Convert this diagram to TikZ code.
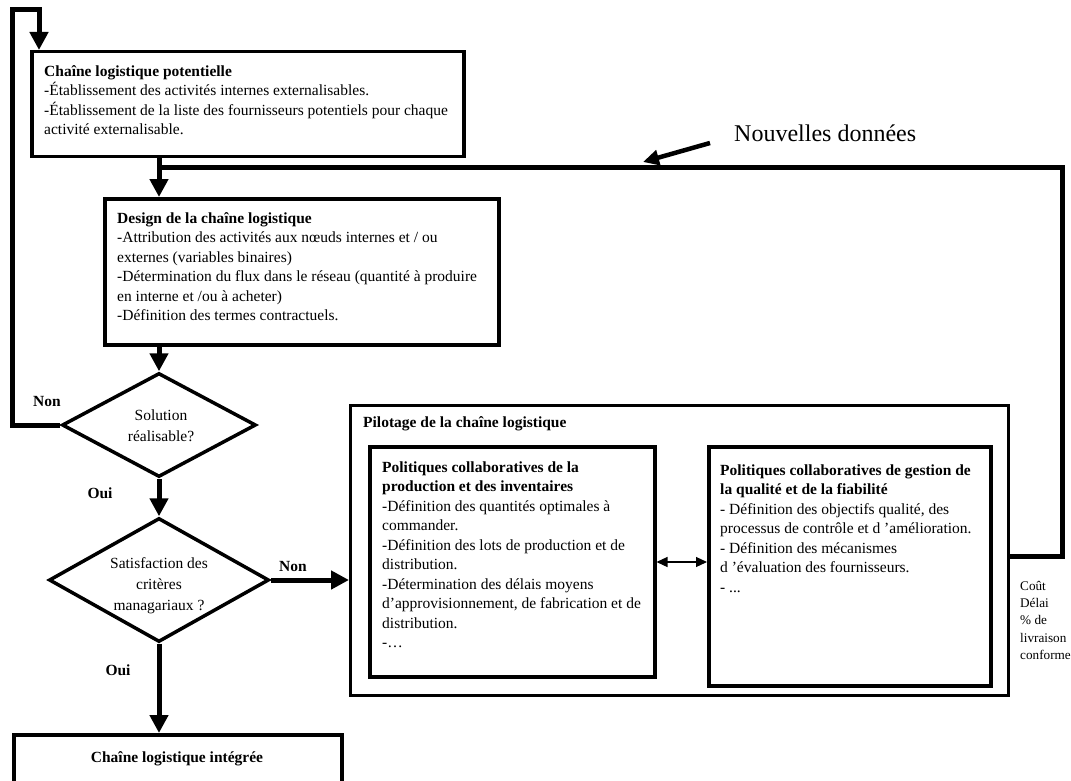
\documentclass[tikz,border=0pt]{standalone}
\usepackage{fontspec}
\setmainfont{Liberation Serif}
\usetikzlibrary{arrows.meta,shapes.geometric}
\tikzset{
  boxstyle/.style={draw,line width=3.5pt,rectangle,inner sep=0pt,anchor=north west},
  dia/.style={draw,line width=3.5pt,diamond,inner sep=0pt},
  txt/.style={inner sep=0pt,anchor=north west,align=left,font=\fontsize{15.5}{19.5}\selectfont},
  lbl/.style={inner sep=0pt,font=\fontsize{15.5}{19}\selectfont\bfseries},
  conn/.style={line width=5pt,line join=miter},
  tip/.style={-{Triangle[length=18pt,width=18pt]}},
}
\begin{document}
\begin{tikzpicture}[x=1pt,y=-1pt]
\useasboundingbox (0,0) rectangle (1071,781);
\clip (0,0) rectangle (1071,781);
% boxes
\node[boxstyle,minimum width=432,minimum height=105] (b1) at (30,50) {};
\node[boxstyle,minimum width=394,minimum height=146] (b2) at (103,197) {};
\node[dia,minimum width=194,minimum height=104] (d1) at (159,425) {};
\node[dia,minimum width=220,minimum height=124] (d2) at (159,580) {};
\node[boxstyle,line width=3pt,minimum width=658,minimum height=290] (pil) at (349,404) {};
\node[boxstyle,minimum width=285,minimum height=230] (pl) at (368,445) {};
\node[boxstyle,minimum width=282,minimum height=239] (pr) at (707,445) {};
\node[boxstyle,minimum width=328,minimum height=70] (bf) at (12,733) {};
% texts
\node[txt] (t1) at (44,65.3) {\textbf{Chaîne logistique potentielle}\\
-Établissement des activités internes externalisables.\\
-Établissement de la liste des fournisseurs potentiels pour chaque\\
activité externalisable.};
\node[txt] (t2) at (117,212.3) {\textbf{Design de la chaîne logistique}\\
-Attribution des activités aux nœuds internes et / ou\\
externes (variables binaires)\\
-Détermination du flux dans le réseau (quantité à produire\\
en interne et /ou à acheter)\\
-Définition des termes contractuels.};
\node[txt] (tpil) at (363,416.3) {\textbf{Pilotage de la chaîne logistique}};
\node[txt] (tpl) at (382,461.3) {\textbf{Politiques collaboratives de la}\\
\textbf{production et des inventaires}\\
-Définition des quantités optimales à\\
commander.\\
-Définition des lots de production et de\\
distribution.\\
-Détermination des délais moyens\\
d’approvisionnement, de fabrication et de\\
distribution.\\
-…};
\node[txt] (tpr) at (720,464.3) {\textbf{Politiques collaboratives de gestion de}\\
\textbf{la qualité et de la fiabilité}\\
- Définition des objectifs qualité, des\\
processus de contrôle et d ’amélioration.\\
- Définition des mécanismes\\
d ’évaluation des fournisseurs.\\
- ...};
\node[inner sep=0pt,align=center,font=\fontsize{15.5}{21}\selectfont] (td1) at (161,426) {Solution\\réalisable?};
\node[inner sep=0pt,align=center,font=\fontsize{15.5}{21}\selectfont] (td2) at (159,586) {Satisfaction des\\critères\\managariaux ?};
\node[lbl] (tbf) at (177,759) {Chaîne logistique intégrée};
% labels
\node[lbl] (non1) at (47,401) {Non};
\node[lbl] (oui1) at (100,493) {Oui};
\node[lbl] (non2) at (293,566) {Non};
\node[lbl] (oui2) at (118,670) {Oui};
\node[inner sep=0pt,anchor=base west,font=\fontsize{24}{28}\selectfont] (nd) at (734,142) {Nouvelles données};
\node[inner sep=0pt,anchor=north west,align=left,font=\fontsize{13.2}{17.3}\selectfont] (crit) at (1020,581) {Coût\\Délai\\\% de\\livraison\\conforme};
% coordinates
\coordinate (lt) at (12,10);
\coordinate (ltx) at (39,10);
\coordinate (j) at (159,168);
\coordinate (fbr) at (1062,556);
\coordinate (fbt) at (1062,168);
\coordinate (m) at (680,562);
\coordinate (nda) at (710,143);
\coordinate (ndb) at (643,162);
% connectors
\draw[conn,tip] (d1.west) -| (lt) -- (ltx) -- (ltx |- b1.north);
\draw[conn,tip] (j |- b1.south) -- (j |- b2.north);
\draw[conn] (pil.east |- fbr) -- (fbr) -- (fbt) -- (j);
\draw[conn,tip] (d1.north |- b2.south) -- (d1.north);
\draw[conn,tip] (d1.south) -- (d2.north);
\draw[conn,tip] (d2.south) -- (d2.south |- bf.north);
\draw[conn,tip] (d2.east) -- (d2.east -| pil.west);
\draw[line width=1.2pt,{Triangle[length=11pt,width=10pt]}-{Triangle[length=11pt,width=10pt]}] (pl.east |- m) -- (pr.west |- m);
\draw[line width=4.5pt,-{Triangle[length=16pt,width=15pt]}] (nda) -- (ndb);
\end{tikzpicture}
\end{document}
